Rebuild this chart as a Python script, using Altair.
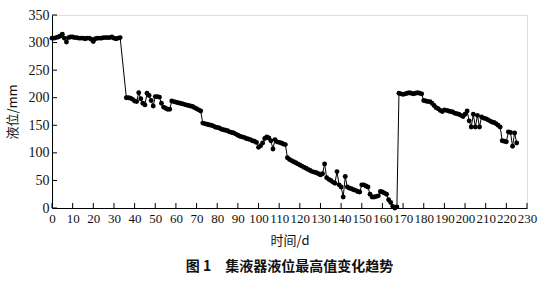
import altair as alt
import pandas as pd

# ---- data ----
days_a = list(range(0, 34))
level_a = [308, 308, 309, 310, 312, 315, 308, 301, 309, 310, 310, 309, 309, 308, 308, 308, 307,
           308, 308, 306, 302, 307, 308, 308, 308, 309, 309, 309, 309, 310, 308, 307, 308, 309]

days_b = list(range(36, 73))
level_b = [200, 200, 199, 197, 194, 193, 209, 198, 190, 187, 208, 204, 195, 185, 202, 202, 201,
           190, 183, 181, 179, 179, 194, 193, 192, 191, 190, 189, 188, 187, 186, 185, 184, 182,
           180, 178, 176]

days_c = list(range(73, 114))
level_c = [154, 153, 152, 151, 150, 149, 147, 146, 145, 143, 142, 141, 140, 138, 137, 136, 134,
           132, 130, 129, 128, 126, 125, 124, 122, 121, 119, 110, 113, 118, 126, 129, 127, 122,
           107, 124, 120, 119, 118, 116, 115]

days_d = list(range(114, 168))
level_d = [91, 88, 86, 84, 82, 80, 78, 76, 74, 72, 70, 68, 66, 65, 64, 62, 60, 62, 80, 55, 52,
           50, 47, 45, 66, 42, 38, 20, 57, 38, 36, 35, 33, 32, 30, 29, 42, 42, 40, 38, 25, 20,
           20, 21, 22, 30, 29, 27, 25, 15, 10, 3, 0, 2]

days_e = list(range(168, 226))
level_e = [208, 207, 206, 207, 208, 209, 208, 207, 208, 209, 208, 207, 195, 194, 193, 193, 190,
           186, 182, 180, 177, 175, 178, 177, 176, 175, 174, 172, 171, 170, 168, 166, 170, 176,
           158, 147, 170, 147, 168, 147, 165, 163, 162, 160, 158, 156, 155, 153, 150, 147, 122,
           121, 120, 138, 137, 112, 136, 118]

x_ticks = list(range(0, 231, 10))
y_ticks = list(range(0, 351, 50))

days = days_a + days_b + days_c + days_d + days_e
levels = level_a + level_b + level_c + level_d + level_e
df = pd.DataFrame({"day": days, "level": levels})
xt = pd.DataFrame({"t": x_ticks})
yt = pd.DataFrame({"t": y_ticks})

SERIF = "Liberation Serif"
CJK = "Noto Sans CJK SC"

xscale = alt.Scale(domain=[0, 230], nice=False)
yscale = alt.Scale(domain=[0, 350], nice=False)

xaxis = alt.Axis(values=x_ticks, ticks=False, grid=False, labelFont=SERIF, labelFontSize=13,
                 labelColor="#111", labelPadding=4, domainColor="black", domainWidth=1,
                 labelOverlap=False, labelFlush=False,
                 title="时间/d", titleFont=CJK, titleFontSize=13, titleFontWeight="normal",
                 titleColor="#111", titlePadding=9)
yaxis = alt.Axis(values=y_ticks, ticks=False, grid=False, labelFont=SERIF, labelFontSize=14,
                 labelColor="#111", labelPadding=3, domainColor="black", domainWidth=1,
                 labelOverlap=False, labelFlush=False,
                 title="液位/mm", titleFont=CJK, titleFontSize=13, titleFontWeight="normal",
                 titleColor="#111", titlePadding=9)

X = lambda f: alt.X(f, scale=xscale, axis=xaxis)
Y = lambda f: alt.Y(f, scale=yscale, axis=yaxis)

line = alt.Chart(df).mark_line(color="black", strokeWidth=1).encode(
    x=X("day:Q"), y=Y("level:Q"),
)
pts = alt.Chart(df).mark_circle(color="black", opacity=1, size=24).encode(
    x=X("day:Q"), y=Y("level:Q"),
)
xtick = alt.Chart(xt).mark_rule(color="black", strokeWidth=1).encode(
    x=X("t:Q"),
    y=alt.value(193), y2=alt.value(188),
)
ytick = alt.Chart(yt).mark_rule(color="black", strokeWidth=1).encode(
    y=Y("t:Q"),
    x=alt.value(0), x2=alt.value(5),
)

chart = alt.layer(line, pts, xtick, ytick).properties(
    width=475, height=193,
    autosize=alt.AutoSizeParams(type="none"),
    padding={"left": 52, "top": 15, "right": 29, "bottom": 74},
    title=alt.TitleParams(text="图 1　集液器液位最高值变化趋势", orient="bottom", anchor="middle",
                          font=CJK, fontSize=14, fontWeight="bold", color="#111", offset=13),
).configure_view(stroke=None).configure(background="white")

chart.save("out.html", embed_options={"renderer": "svg", "actions": False})
